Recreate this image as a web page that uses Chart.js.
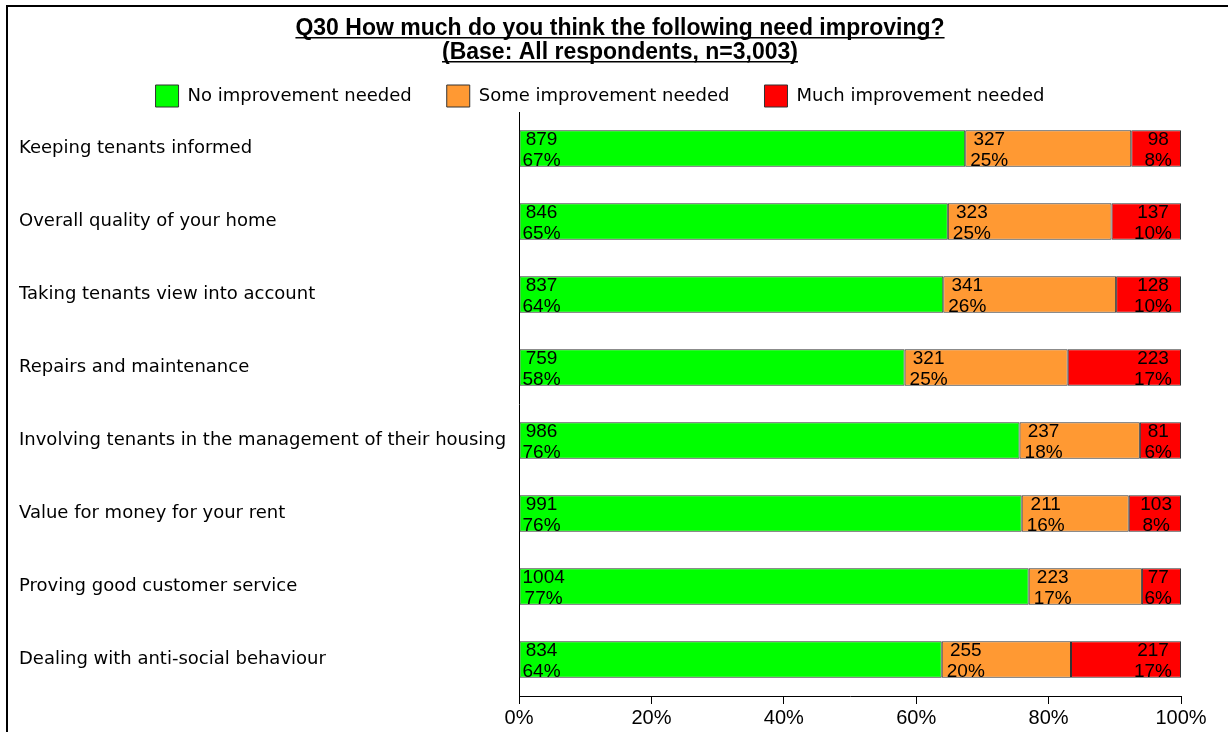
<!DOCTYPE html>
<html lang="en">
<head>
    <meta charset="UTF-8">
    <title>Q30 How much do you think the following need improving?</title>
    <script src="https://cdn.jsdelivr.net/npm/chart.js"></script>
    <style>
        html, body { margin: 0; padding: 0; background: #fff; }
        #wrap { width: 1228px; height: 732px; }
    </style>
</head>
<body>
    <div id="wrap"><canvas id="grafica" width="1228" height="732"></canvas></div>

    <script>
        // Categorias y conteos de respuestas
        var categorias = [
            'Keeping tenants informed',
            'Overall quality of your home',
            'Taking tenants view into account',
            'Repairs and maintenance',
            'Involving tenants in the management of their housing',
            'Value for money for your rent',
            'Proving good customer service',
            'Dealing with anti-social behaviour'
        ];
        var series = ['No improvement needed', 'Some improvement needed', 'Much improvement needed'];
        var sinMejora = [879, 846, 837, 759, 986, 991, 1004, 834];
        var algunaMejora = [327, 323, 341, 321, 237, 211, 223, 255];
        var muchaMejora = [98, 137, 128, 223, 81, 103, 77, 217];
        var ticksX = [0, 20, 40, 60, 80, 100];
        var colores = ['#00FF00', '#FF9933', '#FF0000'];

        var titulo = ['Q30 How much do you think the following need improving?',
                      '(Base: All respondents, n=3,003)'];

        var totales = categorias.map(function(c, i) {
            return sinMejora[i] + algunaMejora[i] + muchaMejora[i];
        });
        function porcentajes(conteos) {
            return conteos.map(function(v, i) { return v / totales[i] * 100; });
        }

        var conteos = [sinMejora, algunaMejora, muchaMejora];
        var datasets = conteos.map(function(c, k) {
            return {
                label: series[k],
                data: porcentajes(c),
                conteos: c,
                backgroundColor: colores[k],
                borderColor: '#333333',
                borderWidth: 1,
                borderSkipped: false,
                barPercentage: 0.5,
                categoryPercentage: 1.0
            };
        });

        // marco, titulo subrayado
        var marcoTitulo = {
            id: 'marcoTitulo',
            beforeDraw: function(chart) {
                var ctx = chart.ctx;
                ctx.save();
                ctx.fillStyle = '#fff';
                ctx.fillRect(0, 0, chart.width, chart.height);
                ctx.strokeStyle = '#000';
                ctx.lineWidth = 2;
                ctx.beginPath();
                ctx.moveTo(7, chart.height);
                ctx.lineTo(7, 6);
                ctx.lineTo(chart.width, 6);
                ctx.stroke();
                ctx.restore();
            },
            afterDraw: function(chart) {
                var ctx = chart.ctx;
                ctx.save();
                ctx.font = 'bold 23px "Liberation Sans", Arial, sans-serif';
                ctx.fillStyle = '#000';
                ctx.textAlign = 'center';
                ctx.textBaseline = 'alphabetic';
                var cx = 620;
                var bases = [35, 59];
                titulo.forEach(function(t, i) {
                    ctx.fillText(t, cx, bases[i]);
                    var w = ctx.measureText(t).width;
                    ctx.fillRect(cx - w / 2, bases[i] + 2, w, 1.5);
                });
                ctx.restore();
            }
        };

        // etiquetas de conteo y porcentaje dentro de cada barra
        var etiquetas = {
            id: 'etiquetas',
            afterDatasetsDraw: function(chart) {
                var ctx = chart.ctx;
                ctx.save();
                ctx.font = '19px "Liberation Sans", Arial, sans-serif';
                ctx.fillStyle = '#000';
                ctx.textAlign = 'center';
                ctx.textBaseline = 'alphabetic';
                chart.data.datasets.forEach(function(ds, k) {
                    var meta = chart.getDatasetMeta(k);
                    meta.data.forEach(function(bar, i) {
                        var lineas = [String(ds.conteos[i]), Math.round(ds.data[i]) + '%'];
                        var w = Math.max(ctx.measureText(lineas[0]).width, ctx.measureText(lineas[1]).width);
                        var izq = Math.min(bar.x, bar.base);
                        var der = Math.max(bar.x, bar.base);
                        var cx = (k === 2) ? der - 9 - w / 2 : izq + (k === 0 ? 3 : 5) + w / 2;
                        ctx.fillText(lineas[0], cx, bar.y - 4);
                        ctx.fillText(lineas[1], cx, bar.y + 17);
                    });
                });
                ctx.restore();
            }
        };

        var ctx = document.getElementById('grafica').getContext('2d');
        var miGrafica = new Chart(ctx, {
            type: 'bar',
            data: {
                labels: categorias,
                datasets: datasets
            },
            plugins: [marcoTitulo, etiquetas],
            options: {
                indexAxis: 'y',
                responsive: false,
                animation: false,
                layout: {
                    padding: { top: 50, left: 19, right: 47, bottom: 0 }
                },
                scales: {
                    x: {
                        stacked: true,
                        min: 0,
                        max: 100,
                        afterBuildTicks: function(scale) {
                            scale.ticks = ticksX.map(function(v) { return { value: v }; });
                        },
                        afterFit: function(scale) { scale.height = 36; },
                        ticks: {
                            color: '#000',
                            padding: 2,
                            font: { family: '"Liberation Sans", Arial, sans-serif', size: 20 },
                            callback: function(v) { return v + '%'; }
                        },
                        grid: {
                            drawOnChartArea: false,
                            drawTicks: true,
                            tickLength: 8,
                            color: '#000'
                        },
                        border: { display: true, color: '#000', width: 1 }
                    },
                    y: {
                        stacked: true,
                        afterFit: function(scale) { scale.width = 500; },
                        ticks: {
                            color: '#000',
                            crossAlign: 'far',
                            font: { family: '"DejaVu Sans", sans-serif', size: 18 }
                        },
                        grid: { display: false },
                        border: { display: true, color: '#000', width: 1 }
                    }
                },
                plugins: {
                    title: { display: false },
                    tooltip: { enabled: false },
                    legend: {
                        position: 'top',
                        maxHeight: 62,
                        labels: {
                            color: '#000',
                            boxWidth: 23,
                            boxHeight: 22,
                            padding: 35,
                            font: { family: '"DejaVu Sans", sans-serif', size: 18 }
                        }
                    }
                }
            }
        });
    </script>
</body>
</html>
